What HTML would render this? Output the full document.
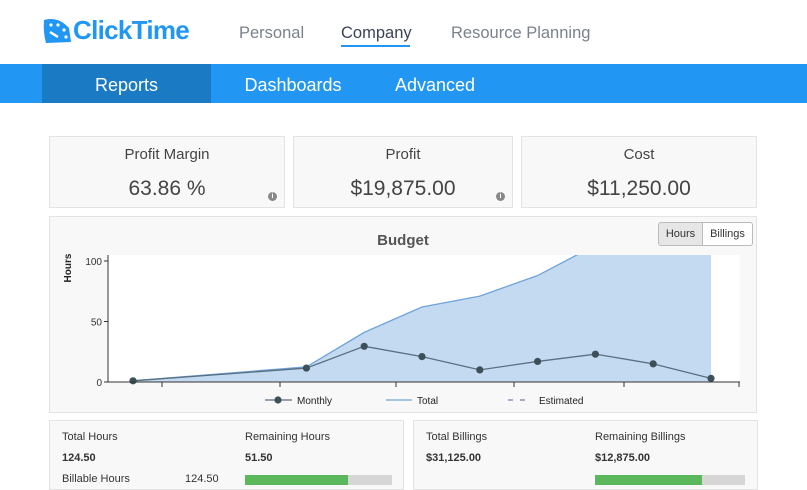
<!DOCTYPE html>
<html><head><meta charset="utf-8">
<style>
*{box-sizing:border-box;margin:0;padding:0}
body{width:807px;height:490px;overflow:hidden;background:#fff;font-family:"Liberation Sans",sans-serif;position:relative;color:#333}
.abs{position:absolute}
.nav a{position:absolute;top:24px;font-size:16.5px;color:#7a828c;text-decoration:none}
.bar{position:absolute;left:0;top:64px;width:807px;height:39px;background:#2196f3}
.bar span{position:absolute;top:0;height:39px;line-height:42px;color:#fff;font-size:18px;text-align:center}
.box{position:absolute;background:#f8f8f8;border:1px solid #e3e3e3}
.kt{position:absolute;left:0;right:0;top:9px;text-align:center;font-size:15px;color:#444}
.kv{position:absolute;left:0;right:0;top:40px;text-align:center;font-size:21px;color:#444}
.info{position:absolute;right:7px;bottom:6px;width:9px;height:9px;border-radius:50%;background:#888;color:#fff;font-size:7px;line-height:9px;text-align:center;font-weight:bold}
.sm{position:absolute;font-size:11px;color:#333}
.b{font-weight:bold}
</style></head><body>
<div class="abs" style="left:42px;top:14px;width:160px;height:34px">
<svg width="30" height="30" viewBox="0 0 30 30" style="position:absolute;left:0;top:2px"><path d="M2 4 Q16 0 27 12 L29 26 L4 27 Q1 16 2 4Z" fill="#2196f3"/><circle cx="9" cy="9" r="1.6" fill="#fff"/><circle cx="16" cy="9" r="1.6" fill="#fff"/><circle cx="22" cy="14" r="1.6" fill="#fff"/><circle cx="24" cy="21" r="1.6" fill="#fff"/><path d="M8 16 L16 21" stroke="#fff" stroke-width="2.5"/></svg>
<span style="position:absolute;left:31px;top:1px;font-size:26px;font-weight:bold;color:#2196f3;letter-spacing:-0.7px">ClickTime</span></div>
<div class="nav">
<a style="left:239px">Personal</a>
<a style="left:341px;color:#3a4452">Company</a>
<a style="left:451px">Resource Planning</a>
</div>
<div class="abs" style="left:341px;top:45px;width:69px;height:2px;background:#2196f3"></div>
<div class="bar">
<span style="left:42px;width:169px;background:#1b7ac4">Reports</span>
<span style="left:232px;width:122px">Dashboards</span>
<span style="left:380px;width:110px">Advanced</span>
</div>
<div class="box" style="left:49px;top:136px;width:236px;height:72px"><div class="kt">Profit Margin</div><div class="kv">63.86 %</div><div class="info">i</div></div>
<div class="box" style="left:293px;top:136px;width:220px;height:72px"><div class="kt">Profit</div><div class="kv">$19,875.00</div><div class="info">i</div></div>
<div class="box" style="left:521px;top:136px;width:236px;height:72px"><div class="kt">Cost</div><div class="kv">$11,250.00</div></div>
<div class="box" style="left:49px;top:216px;width:708px;height:197px"></div>
<div class="abs" style="left:658px;top:222px;width:45px;height:24px;background:#e6e6e6;border:1px solid #bbb;font-size:11px;line-height:22px;text-align:center;border-radius:3px 0 0 3px">Hours</div>
<div class="abs" style="left:702px;top:222px;width:51px;height:24px;background:#fff;border:1px solid #bbb;font-size:11px;line-height:22px;text-align:center;border-radius:0 3px 3px 0">Billings</div>
<svg id="chart" class="abs" style="left:0;top:0" width="807" height="490"></svg>
<div class="box" style="left:49px;top:420px;width:355px;height:70px">
<div class="sm" style="left:12px;top:10px">Total Hours</div><div class="sm" style="left:195px;top:10px">Remaining Hours</div>
<div class="sm b" style="left:12px;top:31px">124.50</div><div class="sm b" style="left:195px;top:31px">51.50</div>
<div class="sm" style="left:12px;top:52px">Billable Hours</div><div class="sm" style="left:135px;top:52px">124.50</div>
<div class="abs" style="left:195px;top:54px;width:147px;height:10px;background:#d6d6d6"><div style="width:70%;height:100%;background:#5cb85c"></div></div>
</div>
<div class="box" style="left:413px;top:420px;width:345px;height:70px">
<div class="sm" style="left:12px;top:10px">Total Billings</div><div class="sm" style="left:181px;top:10px">Remaining Billings</div>
<div class="sm b" style="left:12px;top:31px">$31,125.00</div><div class="sm b" style="left:181px;top:31px">$12,875.00</div>
<div class="abs" style="left:181px;top:54px;width:150px;height:10px;background:#d6d6d6"><div style="width:71%;height:100%;background:#5cb85c"></div></div>
</div>
<script>
const periods=[0,3,4,5,6,7,8,9,10];
const monthly=[1,11.5,29.5,21,10,17,23,15,3];
const total=[1,12.5,41,62,71,88,113,128,131];
const yTicks=[0,50,100];
const NS="http://www.w3.org/2000/svg";
const svg=document.getElementById('chart');
const L=108,R=740,T=255,B=382;
const x=i=>133+i*57.8;
const y=v=>B-v*1.21;
function mk(t,a){const e=document.createElementNS(NS,t);for(const k in a)e.setAttribute(k,a[k]);svg.appendChild(e);return e;}
let e=mk('rect',{x:L,y:T,width:R-L,height:B-T,fill:'#fff'});


let cp=mk('clipPath',{id:'cp'});
const cr=document.createElementNS(NS,'rect');cr.setAttribute('x',L);cr.setAttribute('y',T);cr.setAttribute('width',R-L);cr.setAttribute('height',B-T);cp.appendChild(cr);
let ap='M'+x(periods[0])+','+B+periods.map((p,i)=>' L'+x(p)+','+y(total[i])).join('')+' L'+x(periods[periods.length-1])+','+B+'Z';
e=mk('path',{d:ap,fill:'#c4daf0','clip-path':'url(#cp)'});


e=mk('path',{d:'M'+periods.map((p,i)=>x(p)+','+y(total[i])).join(' L'),fill:'none',stroke:'#6fa3dc','stroke-width':1.3,'clip-path':'url(#cp)'});


e=mk('path',{d:'M'+periods.map((p,i)=>x(p)+','+y(monthly[i])).join(' L'),fill:'none',stroke:'#5a6f80','stroke-width':1.3});


periods.forEach((p,i)=>{const c=mk('circle',{cx:x(p),cy:y(monthly[i]),r:3.6,fill:'#3d5059'});

});
e=mk('line',{x1:L,y1:T,x2:L,y2:B,stroke:'#333'});


e=mk('line',{x1:L,y1:B,x2:R,y2:B,stroke:'#333'});


[162,280,396,514,624,739].forEach(tx=>{mk('line',{x1:tx,y1:B,x2:tx,y2:B+5,stroke:'#333'});});
yTicks.forEach(v=>{mk('line',{x1:L-4,y1:y(v),x2:L,y2:y(v),stroke:'#333'});
const t=mk('text',{x:L-6,y:y(v)+4,'text-anchor':'end','font-size':10,fill:'#333'});t.textContent=v;

});
e=mk('text',{x:71,y:268,'font-size':10,'font-weight':'bold',fill:'#222','text-anchor':'middle',transform:'rotate(-90 71 268)'});e.textContent='Hours';


e=mk('text',{x:403,y:245,'font-size':15,'font-weight':'bold',fill:'#555','text-anchor':'middle'});e.textContent='Budget';


mk('line',{x1:265,y1:400,x2:292,y2:400,stroke:'#5a6f80','stroke-width':1.3});
mk('circle',{cx:278,cy:400,r:3.6,fill:'#3d5059'});
e=mk('text',{x:297,y:404,'font-size':10,fill:'#222'});e.textContent='Monthly';


mk('line',{x1:386,y1:400,x2:412,y2:400,stroke:'#6fa3dc','stroke-width':1.3});
e=mk('text',{x:417,y:404,'font-size':10,fill:'#222'});e.textContent='Total';


mk('line',{x1:508,y1:400,x2:530,y2:400,stroke:'#5a5a9a','stroke-width':1,'stroke-dasharray':'5,7'});
e=mk('text',{x:539,y:404,'font-size':10,fill:'#222'});e.textContent='Estimated';


</script>
</body></html>
